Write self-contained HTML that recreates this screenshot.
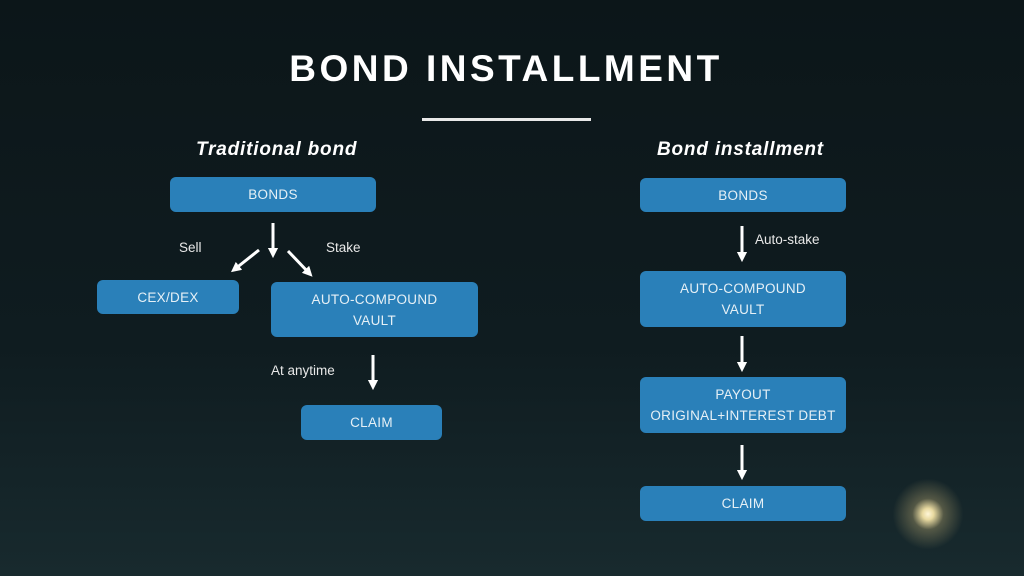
<!DOCTYPE html>
<html><head><style>
body{margin:0;width:1024px;height:576px;overflow:hidden;font-family:"Liberation Sans",sans-serif;}
#bg{position:absolute;left:0;top:0;width:1024px;height:576px;background:linear-gradient(#0c1619 0%,#0f1c20 60%,#182a2e 100%);}
.b{position:absolute;background:#2a80b9;border-radius:6px;color:#e6f0f6;font-size:13.5px;text-align:center;display:flex;align-items:center;justify-content:center;line-height:21px;letter-spacing:0.3px}
.t{position:absolute;color:#e8e8e8;font-size:13.5px}
.h{position:absolute;color:#fff;font-weight:bold;font-style:italic;font-size:19px;letter-spacing:0.8px}
</style></head><body>
<div id="bg"></div>
<div style="position:absolute;left:878px;top:464px;width:100px;height:100px;border-radius:50%;background:radial-gradient(circle,#fff6d8 0%,#e8d9a0 8%,rgba(200,180,120,0.35) 22%,rgba(0,0,0,0) 50%)"></div>
<div style="position:absolute;left:0;top:48px;width:1012px;text-align:center;color:#fff;font-weight:bold;font-size:37px;letter-spacing:3.5px">BOND INSTALLMENT</div>
<div style="position:absolute;left:422px;top:118px;width:169px;height:3px;background:#e8e8e8"></div>
<div class="h" style="left:196px;top:139px">Traditional bond</div>
<div class="h" style="left:657px;top:139px">Bond installment</div>
<div class="b" style="left:170px;top:177px;width:206px;height:35px">BONDS</div>
<div class="b" style="left:97px;top:280px;width:142px;height:34px">CEX/DEX</div>
<div class="b" style="left:271px;top:282px;width:207px;height:55px">AUTO-COMPOUND<br>VAULT</div>
<div class="b" style="left:301px;top:405px;width:141px;height:35px">CLAIM</div>
<div class="b" style="left:640px;top:178px;width:206px;height:34px">BONDS</div>
<div class="b" style="left:640px;top:271px;width:206px;height:56px">AUTO-COMPOUND<br>VAULT</div>
<div class="b" style="left:640px;top:377px;width:206px;height:56px">PAYOUT<br>ORIGINAL+INTEREST DEBT</div>
<div class="b" style="left:640px;top:486px;width:206px;height:35px">CLAIM</div>
<div class="t" style="left:179px;top:240px">Sell</div>
<div class="t" style="left:326px;top:240px">Stake</div>
<div class="t" style="left:271px;top:363px">At anytime</div>
<div class="t" style="left:755px;top:232px">Auto-stake</div>
<svg width="1024" height="576" style="position:absolute;left:0;top:0">
<defs><marker id="a" markerWidth="3.4" markerHeight="3.4" refX="1.7" refY="1.7" orient="auto"><path d="M0,0L3.4,1.7L0,3.4z" fill="#fff"/></marker></defs>
<g stroke="#fff" stroke-width="3" marker-end="url(#a)">
<line x1="273" y1="223" x2="273" y2="253"/>
<line x1="259" y1="250" x2="235" y2="269"/>
<line x1="288" y1="251" x2="309" y2="273"/>
<line x1="373" y1="355" x2="373" y2="385"/>
<line x1="742" y1="226" x2="742" y2="257"/>
<line x1="742" y1="336" x2="742" y2="367"/>
<line x1="742" y1="445" x2="742" y2="475"/>
</g></svg>
</body></html>
